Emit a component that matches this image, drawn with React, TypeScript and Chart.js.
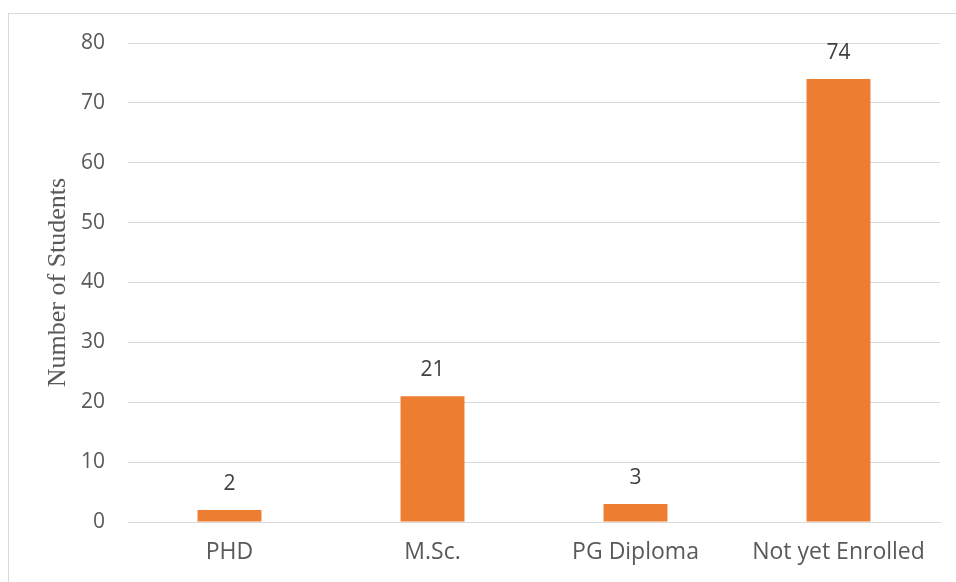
import React, { useEffect, useRef } from "react";
import { Chart, registerables } from "chart.js";

Chart.register(...registerables);

const categories = ["PHD", "M.Sc.", "PG Diploma", "Not yet Enrolled"];
const students = [2, 21, 3, 74];
const yTicks = [0, 10, 20, 30, 40, 50, 60, 70, 80];
const yTitle = "Number of Students";

const W = 956;
const H = 582;

export default function App() {
  const ref = useRef<HTMLCanvasElement | null>(null);

  useEffect(() => {
    const canvas = ref.current;
    if (!canvas) return;

    const frame = {
      id: "frame",
      beforeDraw(chart: any) {
        const ctx = chart.ctx;
        ctx.save();
        ctx.fillStyle = "#ffffff";
        ctx.fillRect(0, 0, W, H);
        ctx.strokeStyle = "#d9d9d9";
        ctx.lineWidth = 1;
        ctx.strokeRect(8.5, 13.5, W + 20, H + 20);
        ctx.restore();
      },
    };

    const labels = {
      id: "valueLabels",
      afterDatasetsDraw(chart: any) {
        const ctx = chart.ctx;
        const meta = chart.getDatasetMeta(0);
        ctx.save();
        ctx.font = "21px 'Open Sans', sans-serif";
        ctx.fillStyle = "#404040";
        ctx.textAlign = "center";
        ctx.textBaseline = "middle";
        meta.data.forEach((bar: any, i: number) => {
          ctx.fillText(String(students[i]), bar.x, bar.y - 26);
        });
        ctx.restore();
      },
    };

    const chart = new Chart(canvas, {
      type: "bar",
      data: {
        labels: categories,
        datasets: [
          {
            data: students,
            backgroundColor: "#ED7D31",
            borderWidth: 0,
            barPercentage: 0.63,
            categoryPercentage: 0.5,
          },
        ],
      },
      options: {
        responsive: false,
        animation: false,
        layout: { padding: { left: 39, right: 16, top: 43, bottom: 0 } },
        plugins: {
          legend: { display: false },
          tooltip: { enabled: false },
        },
        scales: {
          x: {
            grid: { display: false, drawTicks: false },
            border: { display: true, color: "#d9d9d9" },
            ticks: {
              padding: 17,
              color: "#595959",
              font: { family: "'Open Sans', sans-serif", size: 23 },
            },
            afterFit(scale: any) {
              scale.height = 60;
            },
          },
          y: {
            min: 0,
            max: 80,
            afterBuildTicks(scale: any) {
              scale.ticks = yTicks.map((v) => ({ value: v }));
            },
            grid: { color: "#d9d9d9", drawTicks: false },
            border: { display: false },
            ticks: {
              padding: 23,
              color: "#595959",
              font: { family: "'Open Sans', sans-serif", size: 21 },
            },
            title: {
              display: true,
              text: yTitle,
              color: "#595959",
              padding: { top: 4, bottom: 4 },
              font: { family: "'Liberation Serif', serif", size: 26, weight: "normal" },
            },
            afterFit(scale: any) {
              scale.width = 89;
            },
          },
        },
      },
      plugins: [frame, labels],
    } as any);

    return () => chart.destroy();
  }, []);

  return (
    <div style={{ position: "absolute", left: 0, top: 0, width: W, height: H, overflow: "hidden" }}>
      <canvas ref={ref} width={W} height={H} style={{ display: "block", width: W, height: H }} />
    </div>
  );
}
